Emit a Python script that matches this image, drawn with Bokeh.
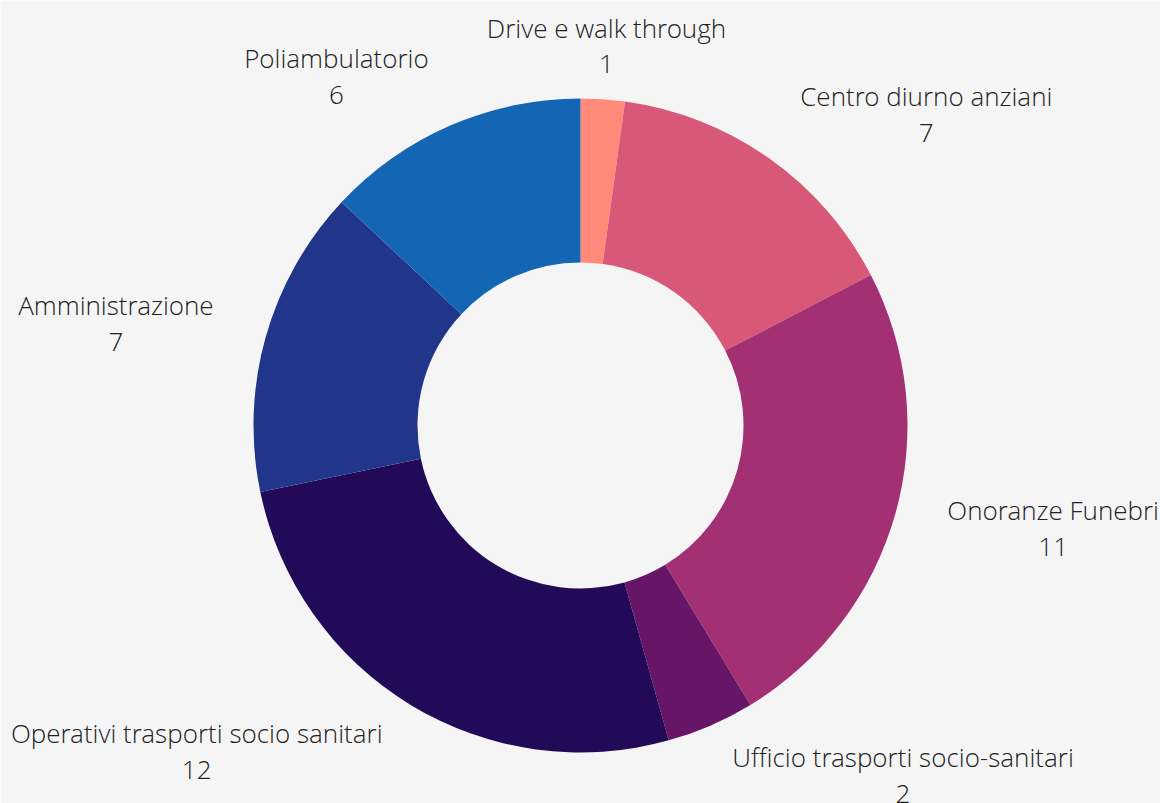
import math
from bokeh.plotting import figure
from bokeh.models import ColumnDataSource
from bokeh.core.properties import value
from bokeh.embed import file_html
from bokeh.resources import INLINE

categories = ["Drive e walk through", "Centro diurno anziani", "Onoranze Funebri",
              "Ufficio trasporti socio-sanitari", "Operativi trasporti socio sanitari",
              "Amministrazione", "Poliambulatorio"]
counts = [1, 7, 11, 2, 12, 7, 6]
colors = ["#FF8A7A", "#D85977", "#A33073", "#661567", "#230A59", "#21368A", "#1565B5"]

W, H = 1160, 803
CX, CY = 580, 425          # pixel centre of the donut
R_OUT, R_IN = 327, 163
R_LAB = 381

total = sum(counts)
starts, ends, lx, ly, anchors, texts = [], [], [], [], [], []
cum = 0
for c, n in zip(categories, counts):
    a0 = math.pi / 2 - 2 * math.pi * cum / total
    a1 = math.pi / 2 - 2 * math.pi * (cum + n) / total
    starts.append(a0)
    ends.append(a1)
    mid = (a0 + a1) / 2
    x = R_LAB * math.cos(mid)
    y = R_LAB * math.sin(mid)
    lx.append(x)
    ly.append(y)
    if abs(math.cos(mid)) < 0.2:
        anchors.append("center")
    elif math.cos(mid) > 0:
        anchors.append("center_left")
    else:
        anchors.append("center_right")
    texts.append(f"{c}\n{n}")
    cum += n

src = ColumnDataSource(dict(start=starts, end=ends, color=colors))

p = figure(width=W, height=H, output_backend="svg", toolbar_location=None,
           x_range=(-CX, W - CX), y_range=(-(H - CY), CY),
           min_border=0, background_fill_color="#F5F5F5",
           border_fill_color="#F5F5F5", outline_line_color=None)
p.axis.visible = False
p.grid.visible = False

p.annular_wedge(x=0, y=0, inner_radius=R_IN, outer_radius=R_OUT,
                start_angle="start", end_angle="end", direction="clock",
                fill_color="color", line_color=None, source=src)

for i in range(len(categories)):
    p.text(x=[lx[i]], y=[ly[i]], text=[texts[i]], anchor=anchors[i],
           text_align="center", text_baseline="middle",
           text_font=value("Open Sans Light"), text_font_size="26px",
           text_line_height=0.99, text_color="#222222")

open("out.html", "w").write(file_html(p, INLINE))
